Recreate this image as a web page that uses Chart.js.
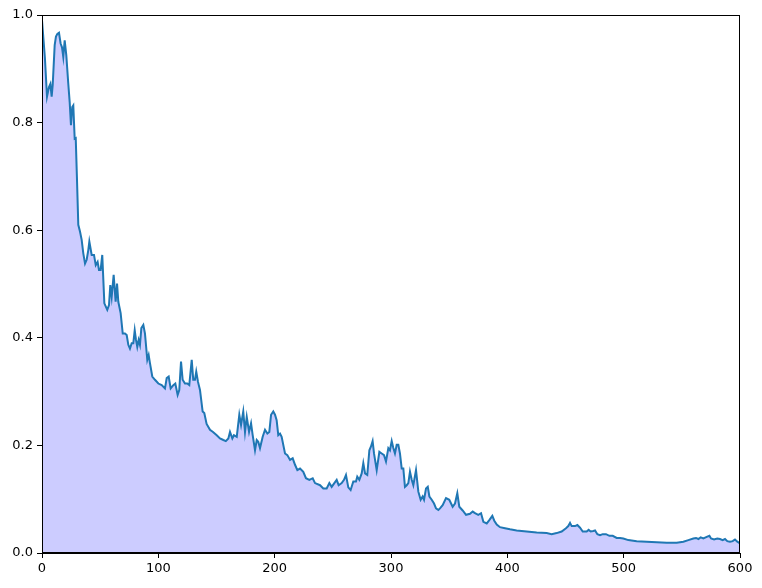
<!DOCTYPE html>
<html>
<head>
<meta charset="utf-8">
<script src="https://cdn.jsdelivr.net/npm/chart.js@4/dist/chart.umd.min.js"></script>
<style>
html,body{margin:0;padding:0;background:#fff;}
canvas{display:block;}
</style>
</head>
<body>
<canvas id="c" width="762" height="588"></canvas>
<script>
const xTicks = [0, 100, 200, 300, 400, 500, 600];
const yTicks = [0.0, 0.2, 0.4, 0.6, 0.8, 1.0];

const xs = [
0,2.5,4.3,6,7.2,8.3,9.2,10.9,12,13.2,14.6,16,17.2,18.3,19.5,20.9,22.5,23.8,24.9,26,26.9,28.1,29,30,31.2,32.7,34.1,35.5,37,38.4,39.8,40.7,42.7,44.7,46.2,47.8,49,50.4,51.8,53.6,56.1,57.6,58.7,59.9,61.6,63.3,64.5,65.6,67.6,69.4,71.3,72.8,74.2,75.6,77.1,78.5,79.7,80.8,81.9,83.1,84.2,85.4,87.1,88.5,90.5,91.7,92.8,94.8,97.1,100,102.9,105.7,107.2,108.9,110.6,112.9,114.6,116.6,118,119.5,120.9,122.9,124.9,126.6,128.7,130,131.5,132.6,134.1,135.8,138.1,139.5,141.5,144.4,147,150.2,153,155.9,158,160.2,161.6,163.6,165,167.4,169.6,171.1,173,174.5,176,178,179.7,181.1,183.1,184.6,185.9,187.4,189.7,191.7,193.7,195.4,196.9,198.8,200.3,201.7,203.1,204.6,206,208.9,210.9,213.2,215.5,217.5,219.5,221.8,224.6,226.9,229.8,232.7,234.7,239,241.8,244.7,247,249,251.3,253.3,255,257.6,259.6,261.3,263.3,265.3,267.6,269.9,271,272.8,274.8,276.2,277.7,279.6,281.4,282.8,284.2,285.4,287.7,290,292,294,295.7,297.7,299.1,300.6,302,303.4,304.9,306.3,307.7,309.2,310.6,312,313.5,314.9,316.3,317.8,319.2,321.5,323.5,325.5,327.2,328.4,330.1,331.6,333,335,337,338.7,340.7,342.1,344.4,347.3,350.1,353,355,357,358.7,361.6,364.5,367.9,370.2,372.2,375,377.4,379.4,382.3,384.5,387.1,388.8,390.9,393.7,398,402.3,408,416.6,425.2,433.8,438.1,442.4,446.7,450.4,452.4,453.9,455.3,458.2,460.2,462.5,464.8,468.2,469.9,471.6,473.9,475.4,477.4,479.7,482,484.8,487.7,490.6,494,496.9,499.7,504,511.2,519.8,528.4,537,545.6,551.3,555.6,559.9,562.2,564.2,566.2,568.5,571.4,573.7,575.1,577.7,580.5,582.8,585.1,587.1,589.1,591.4,593.7,595.7,597.7,600
];
const ys = [
0.99,0.92,0.848,0.866,0.872,0.848,0.870,0.944,0.960,0.965,0.967,0.947,0.94,0.922,0.953,0.925,0.875,0.838,0.795,0.829,0.832,0.770,0.771,0.70,0.610,0.597,0.582,0.557,0.538,0.545,0.563,0.579,0.554,0.554,0.535,0.541,0.526,0.526,0.554,0.464,0.452,0.461,0.498,0.476,0.517,0.467,0.501,0.467,0.446,0.408,0.408,0.405,0.387,0.380,0.390,0.390,0.414,0.396,0.383,0.396,0.387,0.418,0.424,0.408,0.359,0.368,0.353,0.328,0.322,0.315,0.312,0.306,0.325,0.328,0.306,0.312,0.315,0.294,0.303,0.356,0.322,0.315,0.315,0.312,0.359,0.322,0.322,0.337,0.318,0.303,0.263,0.260,0.240,0.229,0.225,0.219,0.213,0.210,0.208,0.213,0.225,0.213,0.219,0.216,0.257,0.238,0.263,0.225,0.253,0.225,0.241,0.219,0.191,0.210,0.207,0.195,0.216,0.229,0.222,0.225,0.257,0.263,0.257,0.247,0.219,0.222,0.216,0.185,0.182,0.173,0.176,0.164,0.154,0.157,0.151,0.139,0.136,0.139,0.130,0.126,0.120,0.120,0.130,0.123,0.130,0.136,0.126,0.130,0.136,0.145,0.122,0.117,0.133,0.133,0.142,0.136,0.148,0.167,0.148,0.145,0.191,0.198,0.208,0.185,0.154,0.188,0.185,0.182,0.170,0.195,0.191,0.208,0.195,0.185,0.201,0.201,0.185,0.157,0.157,0.123,0.126,0.130,0.151,0.136,0.126,0.154,0.114,0.099,0.105,0.099,0.120,0.123,0.105,0.099,0.092,0.083,0.080,0.083,0.089,0.102,0.099,0.086,0.092,0.111,0.086,0.079,0.071,0.073,0.077,0.074,0.071,0.074,0.058,0.055,0.061,0.069,0.060,0.053,0.048,0.046,0.044,0.042,0.040,0.038,0.037,0.035,0.037,0.040,0.046,0.050,0.056,0.050,0.050,0.052,0.047,0.040,0.040,0.043,0.040,0.041,0.042,0.035,0.033,0.035,0.035,0.032,0.032,0.028,0.028,0.027,0.024,0.022,0.021,0.020,0.019,0.019,0.021,0.024,0.027,0.028,0.026,0.029,0.027,0.030,0.032,0.027,0.025,0.027,0.026,0.024,0.026,0.022,0.021,0.022,0.025,0.021,0.018
];

const points = xs.map((x, i) => ({x: x, y: ys[i]}));

const framePlugin = {
  id: 'frame',
  afterDatasetsDraw(chart) {
    const a = chart.chartArea, ctx = chart.ctx;
    ctx.save();
    ctx.strokeStyle = '#000';
    ctx.lineWidth = 1;
    ctx.strokeRect(Math.round(a.left) + 0.5, Math.round(a.top) + 0.5,
                   Math.round(a.right - a.left) - 1, Math.round(a.bottom - a.top) - 1);
    ctx.restore();
  }
};

const font = {family: '"DejaVu Sans", sans-serif', size: 13};

new Chart(document.getElementById('c'), {
  type: 'line',
  data: {
    datasets: [{
      data: points,
      borderColor: '#1f77b4',
      backgroundColor: '#ccccff',
      borderWidth: 2,
      pointRadius: 0,
      tension: 0,
      fill: 'origin'
    }]
  },
  options: {
    responsive: false,
    devicePixelRatio: 1,
    animation: false,
    layout: {padding: {top: 15, right: 22, left: 0, bottom: 0}},
    plugins: {legend: {display: false}, tooltip: {enabled: false}},
    scales: {
      x: {
        type: 'linear', min: 0, max: 600,
        afterBuildTicks: s => { s.ticks = xTicks.map(v => ({value: v})); },
        afterFit: s => { s.height = 35; },
        ticks: {color: '#000', font: font, padding: 3, maxRotation: 0,
                callback: v => String(v)},
        grid: {drawOnChartArea: false, drawTicks: true, tickLength: 5, color: '#000'},
        border: {display: true, color: '#000'}
      },
      y: {
        type: 'linear', min: 0, max: 1,
        afterBuildTicks: s => { s.ticks = yTicks.map(v => ({value: v})); },
        afterFit: s => { s.width = 42; },
        ticks: {color: '#000', font: font, padding: 4,
                callback: v => Number(v).toFixed(1)},
        grid: {drawOnChartArea: false, drawTicks: true, tickLength: 5, color: '#000'},
        border: {display: true, color: '#000'}
      }
    }
  },
  plugins: [framePlugin]
});
</script>
</body>
</html>
